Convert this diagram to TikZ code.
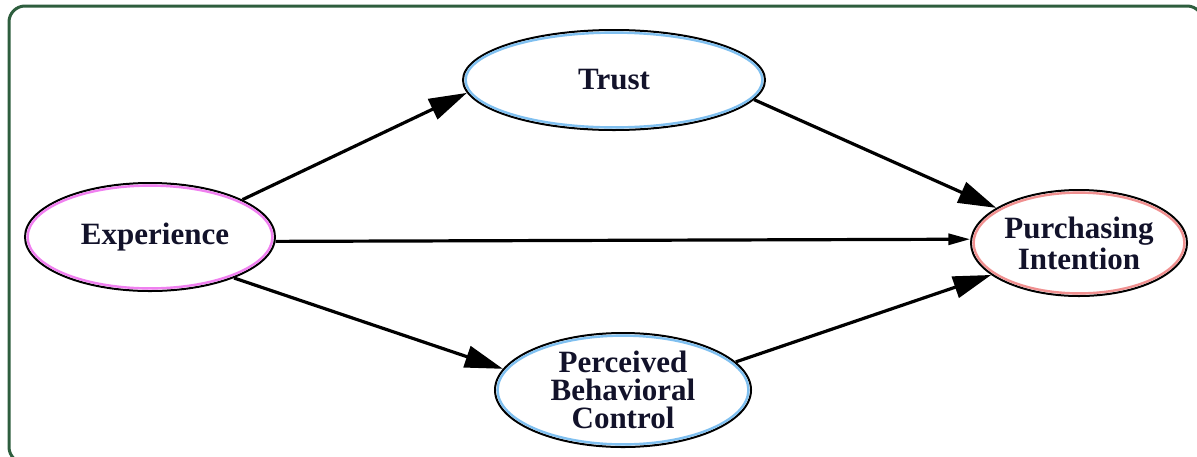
\documentclass[tikz,border=0pt]{standalone}
\usepackage{fontspec}
\setmainfont{Liberation Serif}
\usetikzlibrary{shapes.geometric,arrows.meta}
\definecolor{framegreen}{HTML}{2E5E3E}
\definecolor{txt}{HTML}{12122A}
\definecolor{halopink}{HTML}{F080F0}
\definecolor{haloblue}{HTML}{80C0F0}
\definecolor{halored}{HTML}{F09090}
\tikzset{
  var/.style={ellipse, draw=black, line width=1pt, fill=white, inner sep=0pt,
    text=txt, align=center, font=\fontsize{15.5}{14}\selectfont\bfseries},
  conn/.style={line width=1.6pt, -{Triangle[length=19pt,width=11pt]}},
  connsmall/.style={line width=1.6pt, -{Triangle[length=11pt,width=5.5pt]}},
}
\begin{document}
\begin{tikzpicture}[x=0.5pt,y=-0.5pt]
\useasboundingbox (0,0) rectangle (1197,456);
\draw[framegreen, line width=1.5pt, rounded corners=8pt] (9,6) rectangle (1203,463);

\node[var, minimum width=125pt, minimum height=54pt] (exp) at (150,237) {\hspace*{5pt}Experience};
\node[var, minimum width=151pt, minimum height=50pt] (trust) at (614,80) {Trust};
\node[var, minimum width=108pt, minimum height=53pt, font=\fontsize{15.5}{15.5}\selectfont\bfseries] (pi) at (1079,243) {Purchasing\\Intention};
\node[var, minimum width=128pt, minimum height=57pt] (pbc) at (623,390) {Perceived\\Behavioral\\Control};

\draw[halopink, line width=1.2pt] (exp.center) ellipse (61.2pt and 25.7pt);
\draw[haloblue, line width=1.2pt] (trust.center) ellipse (74.2pt and 23.7pt);
\draw[halored, line width=1.2pt] (pi.center) ellipse (52.7pt and 25.2pt);
\draw[haloblue, line width=1.2pt] (pbc.center) ellipse (62.7pt and 27.2pt);

\draw[conn] (exp.22) -- (trust.185);
\draw[conn] (trust.352) -- (pi.157);
\draw[connsmall] (exp.-2) -- (pi.178);
\draw[conn] (exp.-26) -- (pbc.170);
\draw[conn] (pbc.14) -- (pi.200);
\end{tikzpicture}
\end{document}
